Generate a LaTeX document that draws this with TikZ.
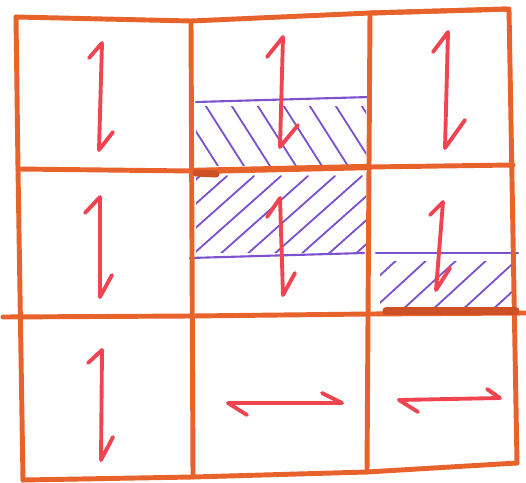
\documentclass[tikz,border=0pt]{standalone}
\definecolor{gridc}{RGB}{232,98,44}
\definecolor{gridd}{RGB}{205,80,38}
\definecolor{arrc}{RGB}{240,68,80}
\definecolor{hatchc}{RGB}{125,82,205}
\begin{document}
\begin{tikzpicture}[x=0.05cm,y=-0.05cm,
  gridline/.style={draw=gridc,line width=7pt,line cap=round,line join=round},
  thickline/.style={draw=gridd,line width=10pt,line cap=round},
  arrowline/.style={draw=arrc,line width=5.5pt,line cap=round,line join=round},
  hatchline/.style={draw=hatchc,line width=2.6pt,line cap=round},
  bandline/.style={draw=hatchc,line width=3pt,line cap=round}]
\useasboundingbox (0,0) rectangle (526,483);
\fill[white] (0,0) rectangle (526,483);
% grid corners
\coordinate (a0) at (16,17);
\coordinate (a1) at (191,21);
\coordinate (a2) at (370,13);
\coordinate (a3) at (509,9);
\coordinate (b0) at (18,169);
\coordinate (b1) at (192,171);
\coordinate (b2) at (370,167);
\coordinate (b3) at (513,165);
\coordinate (c0) at (3,317);
\coordinate (c1) at (192,316);
\coordinate (c2) at (369,314);
\coordinate (c3) at (526,313);
\coordinate (d0) at (23,480);
\coordinate (d1) at (193,477);
\coordinate (d2) at (367,472);
\coordinate (d3) at (517,463);
% hatching
\begin{scope}
  \clip (196,107) rectangle (366,166);
  \foreach \x in {150,176,...,370} \draw[hatchline] (\x,100) -- ++(42,66);
\end{scope}
\begin{scope}
  \clip (196,176) rectangle (366,252);
  \foreach \x in {110,137,...,370} \draw[hatchline] (\x,256) -- ++(90,-80);
\end{scope}
\begin{scope}
  \clip (380,261) rectangle (514,310);
  \foreach \x in {340,370,...,520} \draw[hatchline] (\x,312) -- ++(60,-55);
\end{scope}
% purple band edges
\draw[bandline] (196,102) -- (370,97);
\draw[bandline] (190,258) -- (364,253);
\draw[bandline] (376,253) -- (518,253);
% grid lines
\draw[gridline] (a0) -- (a1) -- (a2) -- (a3);
\draw[gridline,rounded corners=4pt] (a2) -- (a3) -- (d3);
\draw[gridline] (d0) -- (d1) -- (d2) -- (d3);
\draw[gridline] (a0) -- (b0) -- (d0);
\draw[gridline] (a1) -- (d1);
\draw[gridline] (a2) -- (d2);
\draw[gridline] (b0) -- (b1) -- (b2) -- (b3);
\draw[gridline] (c0) -- (c1) -- (c2) -- (c3);
\draw[gridline,line width=9pt] (b1) -- (b2);
\draw[thickline] (196,173) -- (216,174);
\draw[thickline] (386,311) -- (516,311);
% arrows
\draw[arrowline] (89,58) -- (102,43) -- (99,150) -- (113,132);
\draw[arrowline] (267,57) -- (283,37) -- (280,147) -- (298,125);
\draw[arrowline] (433,52) -- (448,32) -- (445,148) -- (465,120);
\draw[arrowline] (85,213) -- (100,197) -- (100,297) -- (112,275);
\draw[arrowline] (267,217) -- (280,198) -- (283,295) -- (295,273);
\draw[arrowline] (430,215) -- (443,202) -- (436,290) -- (450,268);
\draw[arrowline] (88,363) -- (102,350) -- (101,460) -- (113,437);
\draw[arrowline] (247,415) -- (228,403) -- (342,403) -- (322,393);
\draw[arrowline] (418,412) -- (399,400) -- (500,398) -- (487,389);
\end{tikzpicture}
\end{document}
